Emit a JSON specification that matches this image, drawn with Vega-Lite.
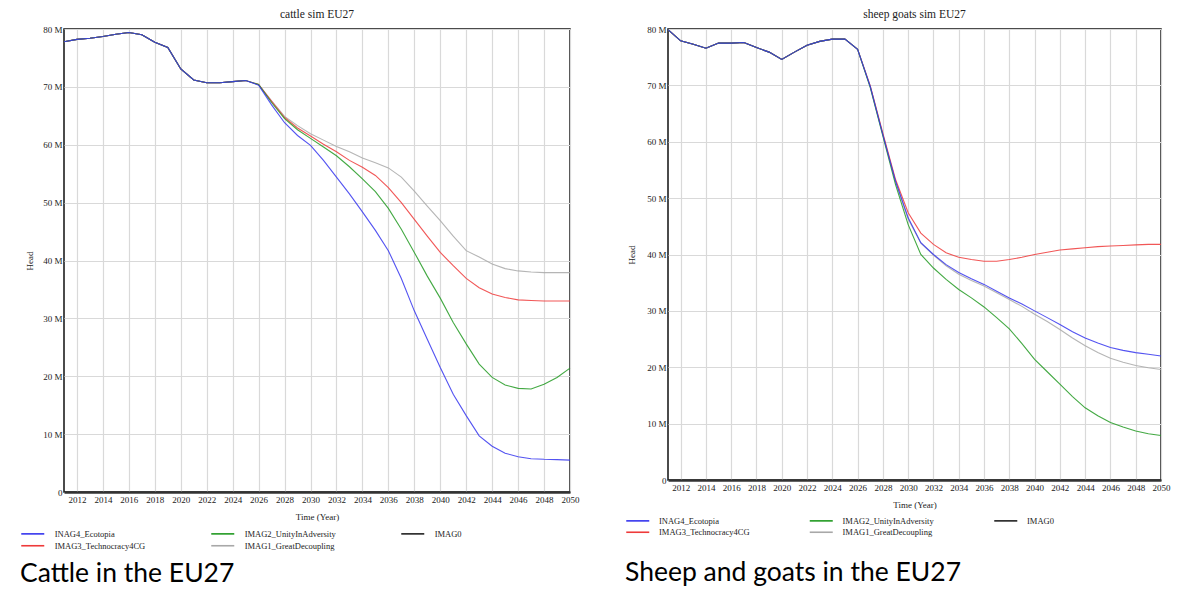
{
  "$schema": "https://vega.github.io/schema/vega-lite/v6.json",
  "background": "white",
  "padding": {"left": 19, "top": 7, "right": 5, "bottom": 5},
  "bounds": "flush",
  "spacing": 98,
  "datasets": {
    "cattle": [
      {"year": 2011, "IMAG0": 77.8, "IMAG1_GreatDecoupling": 77.8, "IMAG3_Technocracy4CG": 77.8, "IMAG2_UnityInAdversity": 77.8, "INAG4_Ecotopia": 77.8},
      {"year": 2012, "IMAG0": 78.2, "IMAG1_GreatDecoupling": 78.2, "IMAG3_Technocracy4CG": 78.2, "IMAG2_UnityInAdversity": 78.2, "INAG4_Ecotopia": 78.2},
      {"year": 2013, "IMAG0": 78.4, "IMAG1_GreatDecoupling": 78.4, "IMAG3_Technocracy4CG": 78.4, "IMAG2_UnityInAdversity": 78.4, "INAG4_Ecotopia": 78.4},
      {"year": 2014, "IMAG0": 78.7, "IMAG1_GreatDecoupling": 78.7, "IMAG3_Technocracy4CG": 78.7, "IMAG2_UnityInAdversity": 78.7, "INAG4_Ecotopia": 78.7},
      {"year": 2015, "IMAG0": 79.1, "IMAG1_GreatDecoupling": 79.1, "IMAG3_Technocracy4CG": 79.1, "IMAG2_UnityInAdversity": 79.1, "INAG4_Ecotopia": 79.1},
      {"year": 2016, "IMAG0": 79.4, "IMAG1_GreatDecoupling": 79.4, "IMAG3_Technocracy4CG": 79.4, "IMAG2_UnityInAdversity": 79.4, "INAG4_Ecotopia": 79.4},
      {"year": 2017, "IMAG0": 79.0, "IMAG1_GreatDecoupling": 79.0, "IMAG3_Technocracy4CG": 79.0, "IMAG2_UnityInAdversity": 79.0, "INAG4_Ecotopia": 79.0},
      {"year": 2018, "IMAG0": 77.7, "IMAG1_GreatDecoupling": 77.7, "IMAG3_Technocracy4CG": 77.7, "IMAG2_UnityInAdversity": 77.7, "INAG4_Ecotopia": 77.7},
      {"year": 2019, "IMAG0": 76.8, "IMAG1_GreatDecoupling": 76.8, "IMAG3_Technocracy4CG": 76.8, "IMAG2_UnityInAdversity": 76.8, "INAG4_Ecotopia": 76.8},
      {"year": 2020, "IMAG0": 73.1, "IMAG1_GreatDecoupling": 73.1, "IMAG3_Technocracy4CG": 73.1, "IMAG2_UnityInAdversity": 73.1, "INAG4_Ecotopia": 73.1},
      {"year": 2021, "IMAG0": 71.2, "IMAG1_GreatDecoupling": 71.2, "IMAG3_Technocracy4CG": 71.2, "IMAG2_UnityInAdversity": 71.2, "INAG4_Ecotopia": 71.2},
      {"year": 2022, "IMAG0": 70.7, "IMAG1_GreatDecoupling": 70.7, "IMAG3_Technocracy4CG": 70.7, "IMAG2_UnityInAdversity": 70.7, "INAG4_Ecotopia": 70.7},
      {"year": 2023, "IMAG0": 70.7, "IMAG1_GreatDecoupling": 70.7, "IMAG3_Technocracy4CG": 70.7, "IMAG2_UnityInAdversity": 70.7, "INAG4_Ecotopia": 70.7},
      {"year": 2024, "IMAG0": 70.9, "IMAG1_GreatDecoupling": 70.9, "IMAG3_Technocracy4CG": 70.9, "IMAG2_UnityInAdversity": 70.9, "INAG4_Ecotopia": 70.9},
      {"year": 2025, "IMAG0": 71.1, "IMAG1_GreatDecoupling": 71.1, "IMAG3_Technocracy4CG": 71.1, "IMAG2_UnityInAdversity": 71.1, "INAG4_Ecotopia": 71.1},
      {"year": 2026, "IMAG1_GreatDecoupling": 70.4, "IMAG3_Technocracy4CG": 70.4, "IMAG2_UnityInAdversity": 70.4, "INAG4_Ecotopia": 70.3},
      {"year": 2027, "IMAG1_GreatDecoupling": 67.6, "IMAG3_Technocracy4CG": 67.5, "IMAG2_UnityInAdversity": 67.3, "INAG4_Ecotopia": 66.9},
      {"year": 2028, "IMAG1_GreatDecoupling": 64.9, "IMAG3_Technocracy4CG": 64.7, "IMAG2_UnityInAdversity": 64.5, "INAG4_Ecotopia": 63.8},
      {"year": 2029, "IMAG1_GreatDecoupling": 63.3, "IMAG3_Technocracy4CG": 62.9, "IMAG2_UnityInAdversity": 62.6, "INAG4_Ecotopia": 61.6},
      {"year": 2030, "IMAG0": 72.3, "IMAG1_GreatDecoupling": 61.9, "IMAG3_Technocracy4CG": 61.5, "IMAG2_UnityInAdversity": 61.1, "INAG4_Ecotopia": 59.9},
      {"year": 2031, "IMAG1_GreatDecoupling": 60.8, "IMAG3_Technocracy4CG": 60.1, "IMAG2_UnityInAdversity": 59.6, "INAG4_Ecotopia": 57.3},
      {"year": 2032, "IMAG1_GreatDecoupling": 59.7, "IMAG3_Technocracy4CG": 58.8, "IMAG2_UnityInAdversity": 58.1, "INAG4_Ecotopia": 54.4},
      {"year": 2033, "IMAG1_GreatDecoupling": 58.8, "IMAG3_Technocracy4CG": 57.3, "IMAG2_UnityInAdversity": 56.2, "INAG4_Ecotopia": 51.5},
      {"year": 2034, "IMAG1_GreatDecoupling": 57.7, "IMAG3_Technocracy4CG": 56.1, "IMAG2_UnityInAdversity": 54.1, "INAG4_Ecotopia": 48.4},
      {"year": 2035, "IMAG0": 73.4, "IMAG1_GreatDecoupling": 56.9, "IMAG3_Technocracy4CG": 54.7, "IMAG2_UnityInAdversity": 51.9, "INAG4_Ecotopia": 45.2},
      {"year": 2036, "IMAG1_GreatDecoupling": 56.0, "IMAG3_Technocracy4CG": 52.6, "IMAG2_UnityInAdversity": 49.0, "INAG4_Ecotopia": 41.7},
      {"year": 2037, "IMAG1_GreatDecoupling": 54.4, "IMAG3_Technocracy4CG": 50.0, "IMAG2_UnityInAdversity": 45.4, "INAG4_Ecotopia": 36.9},
      {"year": 2038, "IMAG1_GreatDecoupling": 52.0, "IMAG3_Technocracy4CG": 47.1, "IMAG2_UnityInAdversity": 41.4, "INAG4_Ecotopia": 31.3},
      {"year": 2039, "IMAG1_GreatDecoupling": 49.4, "IMAG3_Technocracy4CG": 44.2, "IMAG2_UnityInAdversity": 37.3, "INAG4_Ecotopia": 26.4},
      {"year": 2040, "IMAG0": 74.6, "IMAG1_GreatDecoupling": 46.9, "IMAG3_Technocracy4CG": 41.4, "IMAG2_UnityInAdversity": 33.5, "INAG4_Ecotopia": 21.5},
      {"year": 2041, "IMAG1_GreatDecoupling": 44.2, "IMAG3_Technocracy4CG": 39.1, "IMAG2_UnityInAdversity": 29.3, "INAG4_Ecotopia": 16.9},
      {"year": 2042, "IMAG1_GreatDecoupling": 41.7, "IMAG3_Technocracy4CG": 36.9, "IMAG2_UnityInAdversity": 25.6, "INAG4_Ecotopia": 13.2},
      {"year": 2043, "IMAG1_GreatDecoupling": 40.6, "IMAG3_Technocracy4CG": 35.3, "IMAG2_UnityInAdversity": 22.1, "INAG4_Ecotopia": 9.7},
      {"year": 2044, "IMAG1_GreatDecoupling": 39.4, "IMAG3_Technocracy4CG": 34.2, "IMAG2_UnityInAdversity": 19.8, "INAG4_Ecotopia": 7.9},
      {"year": 2045, "IMAG0": 75.7, "IMAG1_GreatDecoupling": 38.6, "IMAG3_Technocracy4CG": 33.6, "IMAG2_UnityInAdversity": 18.5, "INAG4_Ecotopia": 6.7},
      {"year": 2046, "IMAG1_GreatDecoupling": 38.2, "IMAG3_Technocracy4CG": 33.2, "IMAG2_UnityInAdversity": 17.9, "INAG4_Ecotopia": 6.1},
      {"year": 2047, "IMAG1_GreatDecoupling": 38.0, "IMAG3_Technocracy4CG": 33.1, "IMAG2_UnityInAdversity": 17.8, "INAG4_Ecotopia": 5.75},
      {"year": 2048, "IMAG1_GreatDecoupling": 37.9, "IMAG3_Technocracy4CG": 33.0, "IMAG2_UnityInAdversity": 18.6, "INAG4_Ecotopia": 5.65},
      {"year": 2049, "IMAG1_GreatDecoupling": 37.9, "IMAG3_Technocracy4CG": 33.0, "IMAG2_UnityInAdversity": 19.8, "INAG4_Ecotopia": 5.6},
      {"year": 2050, "IMAG0": 76.9, "IMAG1_GreatDecoupling": 37.9, "IMAG3_Technocracy4CG": 33.0, "IMAG2_UnityInAdversity": 21.4, "INAG4_Ecotopia": 5.5}
    ],
    "sheep": [
      {"year": 2011, "IMAG0": 79.9, "IMAG1_GreatDecoupling": 79.9, "IMAG3_Technocracy4CG": 79.9, "IMAG2_UnityInAdversity": 79.9, "INAG4_Ecotopia": 79.9},
      {"year": 2012, "IMAG0": 77.9, "IMAG1_GreatDecoupling": 77.9, "IMAG3_Technocracy4CG": 77.9, "IMAG2_UnityInAdversity": 77.9, "INAG4_Ecotopia": 77.9},
      {"year": 2013, "IMAG0": 77.3, "IMAG1_GreatDecoupling": 77.3, "IMAG3_Technocracy4CG": 77.3, "IMAG2_UnityInAdversity": 77.3, "INAG4_Ecotopia": 77.3},
      {"year": 2014, "IMAG0": 76.6, "IMAG1_GreatDecoupling": 76.6, "IMAG3_Technocracy4CG": 76.6, "IMAG2_UnityInAdversity": 76.6, "INAG4_Ecotopia": 76.6},
      {"year": 2015, "IMAG0": 77.5, "IMAG1_GreatDecoupling": 77.5, "IMAG3_Technocracy4CG": 77.5, "IMAG2_UnityInAdversity": 77.5, "INAG4_Ecotopia": 77.5},
      {"year": 2016, "IMAG0": 77.5, "IMAG1_GreatDecoupling": 77.5, "IMAG3_Technocracy4CG": 77.5, "IMAG2_UnityInAdversity": 77.5, "INAG4_Ecotopia": 77.5},
      {"year": 2017, "IMAG0": 77.6, "IMAG1_GreatDecoupling": 77.6, "IMAG3_Technocracy4CG": 77.6, "IMAG2_UnityInAdversity": 77.6, "INAG4_Ecotopia": 77.6},
      {"year": 2018, "IMAG0": 76.7, "IMAG1_GreatDecoupling": 76.7, "IMAG3_Technocracy4CG": 76.7, "IMAG2_UnityInAdversity": 76.7, "INAG4_Ecotopia": 76.7},
      {"year": 2019, "IMAG0": 75.9, "IMAG1_GreatDecoupling": 75.9, "IMAG3_Technocracy4CG": 75.9, "IMAG2_UnityInAdversity": 75.9, "INAG4_Ecotopia": 75.9},
      {"year": 2020, "IMAG0": 74.6, "IMAG1_GreatDecoupling": 74.6, "IMAG3_Technocracy4CG": 74.6, "IMAG2_UnityInAdversity": 74.6, "INAG4_Ecotopia": 74.6},
      {"year": 2021, "IMAG0": 75.9, "IMAG1_GreatDecoupling": 75.9, "IMAG3_Technocracy4CG": 75.9, "IMAG2_UnityInAdversity": 75.9, "INAG4_Ecotopia": 75.9},
      {"year": 2022, "IMAG0": 77.1, "IMAG1_GreatDecoupling": 77.1, "IMAG3_Technocracy4CG": 77.1, "IMAG2_UnityInAdversity": 77.1, "INAG4_Ecotopia": 77.1},
      {"year": 2023, "IMAG0": 77.8, "IMAG1_GreatDecoupling": 77.8, "IMAG3_Technocracy4CG": 77.8, "IMAG2_UnityInAdversity": 77.8, "INAG4_Ecotopia": 77.8},
      {"year": 2024, "IMAG0": 78.2, "IMAG1_GreatDecoupling": 78.2, "IMAG3_Technocracy4CG": 78.2, "IMAG2_UnityInAdversity": 78.2, "INAG4_Ecotopia": 78.2},
      {"year": 2025, "IMAG0": 78.2, "IMAG1_GreatDecoupling": 78.2, "IMAG3_Technocracy4CG": 78.2, "IMAG2_UnityInAdversity": 78.2, "INAG4_Ecotopia": 78.2},
      {"year": 2026, "IMAG1_GreatDecoupling": 76.4, "IMAG3_Technocracy4CG": 76.4, "IMAG2_UnityInAdversity": 76.4, "INAG4_Ecotopia": 76.4},
      {"year": 2027, "IMAG1_GreatDecoupling": 69.8, "IMAG3_Technocracy4CG": 69.9, "IMAG2_UnityInAdversity": 69.6, "INAG4_Ecotopia": 69.8},
      {"year": 2028, "IMAG1_GreatDecoupling": 61.2, "IMAG3_Technocracy4CG": 61.5, "IMAG2_UnityInAdversity": 61.0, "INAG4_Ecotopia": 61.2},
      {"year": 2029, "IMAG1_GreatDecoupling": 52.9, "IMAG3_Technocracy4CG": 53.3, "IMAG2_UnityInAdversity": 52.4, "INAG4_Ecotopia": 53.0},
      {"year": 2030, "IMAG0": 78.3, "IMAG1_GreatDecoupling": 46.3, "IMAG3_Technocracy4CG": 47.4, "IMAG2_UnityInAdversity": 45.3, "INAG4_Ecotopia": 46.5},
      {"year": 2031, "IMAG1_GreatDecoupling": 42.0, "IMAG3_Technocracy4CG": 43.8, "IMAG2_UnityInAdversity": 40.0, "INAG4_Ecotopia": 42.1},
      {"year": 2032, "IMAG1_GreatDecoupling": 39.9, "IMAG3_Technocracy4CG": 41.8, "IMAG2_UnityInAdversity": 37.6, "INAG4_Ecotopia": 40.0},
      {"year": 2033, "IMAG1_GreatDecoupling": 38.0, "IMAG3_Technocracy4CG": 40.3, "IMAG2_UnityInAdversity": 35.6, "INAG4_Ecotopia": 38.2},
      {"year": 2034, "IMAG1_GreatDecoupling": 36.5, "IMAG3_Technocracy4CG": 39.5, "IMAG2_UnityInAdversity": 33.8, "INAG4_Ecotopia": 36.8},
      {"year": 2035, "IMAG0": 78.4, "IMAG1_GreatDecoupling": 35.4, "IMAG3_Technocracy4CG": 39.1, "IMAG2_UnityInAdversity": 32.3, "INAG4_Ecotopia": 35.7},
      {"year": 2036, "IMAG1_GreatDecoupling": 34.4, "IMAG3_Technocracy4CG": 38.8, "IMAG2_UnityInAdversity": 30.7, "INAG4_Ecotopia": 34.7},
      {"year": 2037, "IMAG1_GreatDecoupling": 33.2, "IMAG3_Technocracy4CG": 38.8, "IMAG2_UnityInAdversity": 28.8, "INAG4_Ecotopia": 33.5},
      {"year": 2038, "IMAG1_GreatDecoupling": 32.0, "IMAG3_Technocracy4CG": 39.1, "IMAG2_UnityInAdversity": 26.8, "INAG4_Ecotopia": 32.3},
      {"year": 2039, "IMAG1_GreatDecoupling": 30.8, "IMAG3_Technocracy4CG": 39.5, "IMAG2_UnityInAdversity": 24.2, "INAG4_Ecotopia": 31.2},
      {"year": 2040, "IMAG0": 78.5, "IMAG1_GreatDecoupling": 29.4, "IMAG3_Technocracy4CG": 40.0, "IMAG2_UnityInAdversity": 21.4, "INAG4_Ecotopia": 30.0},
      {"year": 2041, "IMAG1_GreatDecoupling": 28.1, "IMAG3_Technocracy4CG": 40.4, "IMAG2_UnityInAdversity": 19.2, "INAG4_Ecotopia": 28.8},
      {"year": 2042, "IMAG1_GreatDecoupling": 26.7, "IMAG3_Technocracy4CG": 40.8, "IMAG2_UnityInAdversity": 17.0, "INAG4_Ecotopia": 27.6},
      {"year": 2043, "IMAG1_GreatDecoupling": 25.2, "IMAG3_Technocracy4CG": 41.0, "IMAG2_UnityInAdversity": 14.8, "INAG4_Ecotopia": 26.3},
      {"year": 2044, "IMAG1_GreatDecoupling": 23.8, "IMAG3_Technocracy4CG": 41.2, "IMAG2_UnityInAdversity": 12.8, "INAG4_Ecotopia": 25.2},
      {"year": 2045, "IMAG0": 78.7, "IMAG1_GreatDecoupling": 22.6, "IMAG3_Technocracy4CG": 41.4, "IMAG2_UnityInAdversity": 11.4, "INAG4_Ecotopia": 24.3},
      {"year": 2046, "IMAG1_GreatDecoupling": 21.6, "IMAG3_Technocracy4CG": 41.5, "IMAG2_UnityInAdversity": 10.2, "INAG4_Ecotopia": 23.5},
      {"year": 2047, "IMAG1_GreatDecoupling": 20.9, "IMAG3_Technocracy4CG": 41.6, "IMAG2_UnityInAdversity": 9.4, "INAG4_Ecotopia": 23.0},
      {"year": 2048, "IMAG1_GreatDecoupling": 20.3, "IMAG3_Technocracy4CG": 41.7, "IMAG2_UnityInAdversity": 8.7, "INAG4_Ecotopia": 22.6},
      {"year": 2049, "IMAG1_GreatDecoupling": 19.9, "IMAG3_Technocracy4CG": 41.8, "IMAG2_UnityInAdversity": 8.2, "INAG4_Ecotopia": 22.3},
      {"year": 2050, "IMAG0": 78.8, "IMAG1_GreatDecoupling": 19.6, "IMAG3_Technocracy4CG": 41.8, "IMAG2_UnityInAdversity": 7.9, "INAG4_Ecotopia": 22.0}
    ]
  },
  "hconcat": [
    {
      "width": 506,
      "height": 463,
      "data": {"name": "cattle"},
      "title": {"text": "cattle sim EU27", "frame": "group", "anchor": "middle", "offset": 5},
      "transform": [
        {"fold": ["IMAG0", "IMAG1_GreatDecoupling", "IMAG3_Technocracy4CG", "IMAG2_UnityInAdversity", "INAG4_Ecotopia"], "as": ["scenario", "head"]}
      ],
      "mark": {"type": "line", "strokeWidth": 1.1, "strokeOpacity": 0.85},
      "encoding": {
        "x": {
          "field": "year", "type": "quantitative",
          "scale": {"domain": [2011, 2050], "nice": false, "zero": false},
          "axis": {"values": [2012, 2014, 2016, 2018, 2020, 2022, 2024, 2026, 2028, 2030, 2032, 2034, 2036, 2038, 2040, 2042, 2044, 2046, 2048, 2050], "format": "d", "title": "Time (Year)", "titleX": 253, "titleY": 24.3, "titleBaseline": "middle", "titleAlign": "center"}
        },
        "y": {
          "field": "head", "type": "quantitative",
          "scale": {"domain": [0, 80], "nice": false},
          "axis": {"values": [0, 10, 20, 30, 40, 50, 60, 70, 80], "labelExpr": "datum.value === 0 ? '0' : datum.value + ' M'", "title": "Head", "titleX": -34.4, "titleY": 231.5, "titleAngle": 270, "titleBaseline": "middle", "titleAlign": "center"}
        },
        "color": {
          "field": "scenario", "type": "nominal",
          "scale": {"domain": ["INAG4_Ecotopia", "IMAG2_UnityInAdversity", "IMAG0", "IMAG3_Technocracy4CG", "IMAG1_GreatDecoupling"], "range": ["#3535ee", "#229a22", "#222222", "#ee3a3a", "#a8a8a8"]},
          "legend": {
            "orient": "none", "legendX": -44, "legendY": 500.5, "columns": 3, "direction": "horizontal",
            "symbolType": "M-1,0H6.67", "symbolSize": 36, "symbolStrokeWidth": 1.6, "labelOffset": 26.2,
            "columnPadding": 62, "rowPadding": 3, "labelFontSize": 8.5,
            "title": "Cattle in the EU27", "titleOrient": "bottom", "titleAnchor": "start", "titlePadding": 10
          }
        }
      }
    },
    {
      "width": 493,
      "height": 451,
      "data": {"name": "sheep"},
      "title": {"text": "sheep goats sim EU27", "frame": "group", "anchor": "middle", "offset": 5},
      "transform": [
        {"fold": ["IMAG0", "IMAG1_GreatDecoupling", "IMAG3_Technocracy4CG", "IMAG2_UnityInAdversity", "INAG4_Ecotopia"], "as": ["scenario", "head"]}
      ],
      "mark": {"type": "line", "strokeWidth": 1.1, "strokeOpacity": 0.85},
      "encoding": {
        "x": {
          "field": "year", "type": "quantitative",
          "scale": {"domain": [2011, 2050], "nice": false, "zero": false},
          "axis": {"values": [2012, 2014, 2016, 2018, 2020, 2022, 2024, 2026, 2028, 2030, 2032, 2034, 2036, 2038, 2040, 2042, 2044, 2046, 2048, 2050], "format": "d", "title": "Time (Year)", "titleX": 246.5, "titleY": 24.3, "titleBaseline": "middle", "titleAlign": "center"}
        },
        "y": {
          "field": "head", "type": "quantitative",
          "scale": {"domain": [0, 80], "nice": false},
          "axis": {"values": [0, 10, 20, 30, 40, 50, 60, 70, 80], "labelExpr": "datum.value === 0 ? '0' : datum.value + ' M'", "title": "Head", "titleX": -36.5, "titleY": 225.5, "titleAngle": 270, "titleBaseline": "middle", "titleAlign": "center"}
        },
        "color": {
          "field": "scenario", "type": "nominal",
          "scale": {"domain": ["INAG4_Ecotopia", "IMAG2_UnityInAdversity", "IMAG0", "IMAG3_Technocracy4CG", "IMAG1_GreatDecoupling"], "range": ["#3535ee", "#229a22", "#222222", "#ee3a3a", "#a8a8a8"]},
          "legend": {
            "orient": "none", "legendX": -43, "legendY": 487.5, "columns": 3, "direction": "horizontal",
            "symbolType": "M-1,0H6.67", "symbolSize": 36, "symbolStrokeWidth": 1.6, "labelOffset": 25.5,
            "columnPadding": 56.5, "rowPadding": 2.5, "labelFontSize": 8.5,
            "title": "Sheep and goats in the EU27", "titleOrient": "bottom", "titleAnchor": "start", "titlePadding": 23.8
          }
        }
      }
    }
  ],
  "resolve": {"scale": {"color": "independent"}, "legend": {"color": "independent"}},
  "config": {
    "view": {"stroke": "#111111", "strokeWidth": 1.5},
    "font": "Liberation Serif",
    "axis": {
      "grid": true, "gridColor": "#d9d9d9", "gridWidth": 1.2, "ticks": false, "domain": false,
      "labelFont": "Liberation Serif", "labelFontSize": 9, "labelColor": "#222222", "labelPadding": 3,
      "titleFont": "Liberation Serif", "titleFontSize": 9, "titleFontWeight": "normal", "titleColor": "#222222"
    },
    "axisX": {"domain": true, "domainColor": "#333333", "domainWidth": 2.5, "labelFlush": false},
    "axisY": {"labelPadding": 2},
    "legend": {
      "labelFont": "Liberation Serif", "labelColor": "#222222", "labelLimit": 200, "gridAlign": "each",
      "titleFont": "Lato", "titleFontSize": 26.5, "titleFontWeight": "normal", "titleColor": "#000000", "titleLimit": 600
    },
    "title": {"font": "Liberation Serif", "fontSize": 11.5, "fontWeight": "normal", "color": "#222222"}
  }
}
